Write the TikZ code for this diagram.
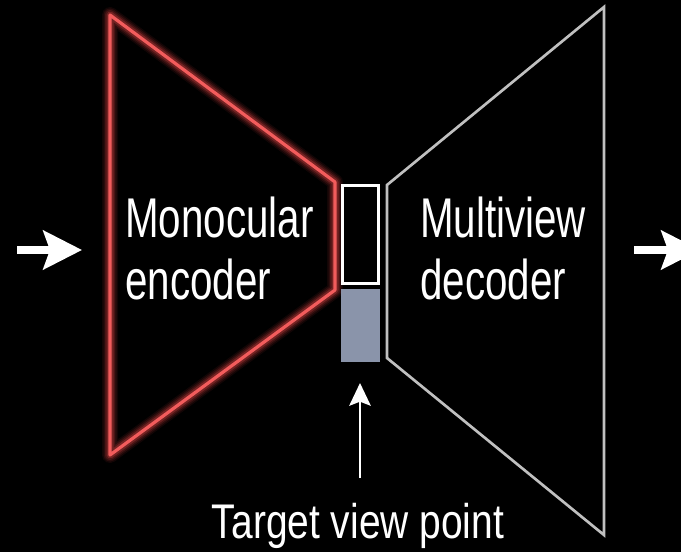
\documentclass[tikz,border=0pt]{standalone}
\usepackage{fontspec}
\setmainfont{Liberation Sans}[FakeStretch=0.8]
\newfontfamily\blockfont{Liberation Sans}[FakeStretch=0.72]
\usetikzlibrary{arrows.meta}
\definecolor{glowred}{HTML}{F25C5C}
\definecolor{deepred}{HTML}{B83838}
\definecolor{decgray}{HTML}{C0C0C0}
\definecolor{codeblue}{HTML}{8A94AA}
\tikzset{
  label text/.style={text=white, font=\blockfont\fontsize{42}{46.5}\selectfont, align=left, inner sep=0pt},
  caption text/.style={text=white, font=\fontsize{36.5}{44}\selectfont, inner sep=0pt},
  fat arrow/.style={white, line width=5.5pt, -{Stealth[length=29pt, width=29pt, inset=5pt]}},
  thin arrow/.style={white, line width=2.2pt, -{Stealth[length=17pt, width=16pt, inset=3pt]}},
}
\begin{document}
\begin{tikzpicture}[x=0.75pt, y=-0.75pt]
  \fill[black] (0,0) rectangle (681,552);
  \useasboundingbox (0,0) rectangle (681,552);

  % encoder outline with glow
  \foreach \w/\o in {16/0.1, 13/0.15, 10/0.22, 7/0.4}
    \draw[deepred, line width=\w*0.75pt, line join=round, opacity=\o]
      (110,15) -- (335,182) -- (335,290) -- (110,455) -- cycle;
  \draw[glowred, line width=2.4pt, line join=round]
    (110,15) -- (335,182) -- (335,290) -- (110,455) -- cycle;

  % decoder outline
  \draw[decgray, line width=2pt]
    (387,185) -- (604,7) -- (604,535) -- (387,358) -- cycle;

  % latent code: empty part and view-point part
  \node[draw=white, line width=2.2pt, minimum width=27pt, minimum height=73pt, inner sep=0pt] (code) at (360.5,234.5) {};
  \fill[codeblue] (341,289) rectangle (380,362);
  \coordinate (vp) at (360.5,362);

  % labels
  \node[label text, anchor=north west] (enc) at (125,197) {Monocular\\encoder};
  \node[label text, anchor=north west] (dec) at (420,197) {Multiview\\decoder};
  \node[caption text, anchor=base] (tvp) at (358,538) {Target view point};

  % input / output arrows
  \coordinate (inA) at (17,250);
  \coordinate (inB) at (82,250);
  \coordinate (outA) at (634,250);
  \coordinate (outB) at (700,250);
  \draw[fat arrow] (inA) -- (inB);
  \draw[fat arrow] (outA) -- (outB);

  % view point arrow
  \coordinate (vpA) at (360,478);
  \draw[thin arrow] (vpA) -- (360,383);
\end{tikzpicture}
\end{document}
